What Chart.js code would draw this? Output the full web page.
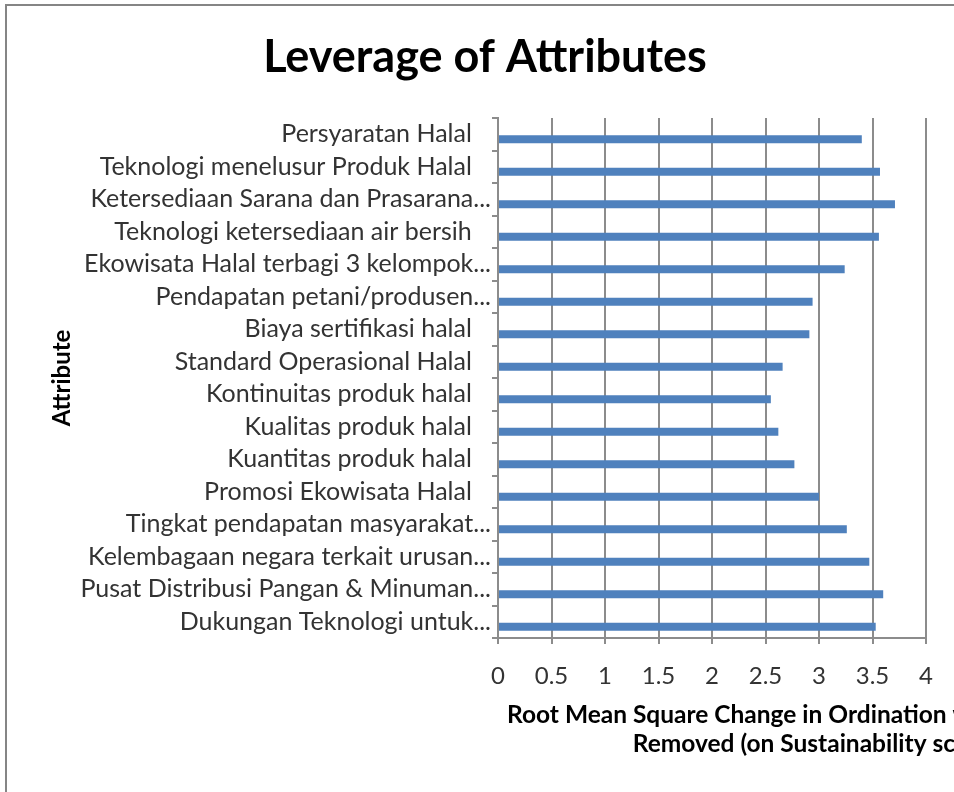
<!DOCTYPE html>
<html>
<head>
<meta charset="utf-8">
<title>Leverage of Attributes</title>
<script src="https://cdn.jsdelivr.net/npm/chart.js@4/dist/chart.umd.min.js"></script>
<style>
  html, body { margin: 0; padding: 0; background: #fff; overflow: hidden; }
  #frame { position: absolute; left: 5px; top: 4px; width: 1200px; height: 1000px; border: 2px solid #858585; box-sizing: border-box; }
  #wrap { position: absolute; left: 0; top: 0; width: 954px; height: 792px; }
</style>
</head>
<body>
<div id="frame"></div>
<div id="wrap"><canvas id="chart-leverage"></canvas></div>
<script>
/* leverage chart: horizontal bars, excel 2007 look, right side cropped */
const ATTRIBUTES = [
  'Persyaratan Halal',
  'Teknologi menelusur Produk Halal',
  'Ketersediaan Sarana dan Prasarana...',
  'Teknologi ketersediaan air bersih',
  'Ekowisata Halal terbagi 3 kelompok...',
  'Pendapatan petani/produsen...',
  'Biaya sertifikasi halal',
  'Standard Operasional Halal',
  'Kontinuitas produk halal',
  'Kualitas produk halal',
  'Kuantitas produk halal',
  'Promosi Ekowisata Halal',
  'Tingkat pendapatan masyarakat...',
  'Kelembagaan negara terkait urusan...',
  'Pusat Distribusi Pangan & Minuman...',
  'Dukungan Teknologi untuk...'
];
const RMS_CHANGE = [3.40, 3.57, 3.71, 3.56, 3.24, 2.94, 2.91, 2.66, 2.55, 2.62, 2.77, 3.00, 3.26, 3.47, 3.60, 3.53];
const X_TICKS = [0, 0.5, 1, 1.5, 2, 2.5, 3, 3.5, 4];
const X_TITLE = ['Root Mean Square Change in Ordination when Selected Attribute', 'Removed (on Sustainability scale 0 to 100)'];

const BLUE = '#4f81bd', GRID = '#8c8c8c', TEXT = '#333333';
const FONT = 'Lato, "Open Sans", sans-serif';

// excel placed the x axis title off-centre, so draw it by hand
const xTitlePlugin = {
  id: 'xTitle',
  afterDraw(chart) {
    const ctx = chart.ctx;
    ctx.save();
    ctx.font = 'bold 24.5px ' + FONT;
    ctx.fillStyle = '#000';
    ctx.textAlign = 'center';
    ctx.textBaseline = 'middle';
    ctx.fillText(X_TITLE[0], 862, 715);
    ctx.fillText(X_TITLE[1], 862, 744);
    ctx.restore();
  }
};

// bars sit a little below the row centre in the original (room for an empty 2nd series)
const barShift = {
  id: 'barShift',
  beforeDatasetsDraw(chart) { chart.ctx.save(); chart.ctx.translate(0, 5); },
  afterDatasetsDraw(chart) { chart.ctx.restore(); }
};

new Chart(document.getElementById('chart-leverage'), {
  type: 'bar',
  data: {
    labels: ATTRIBUTES,
    datasets: [{
      data: RMS_CHANGE,
      backgroundColor: BLUE,
      borderWidth: 0,
      categoryPercentage: 1,
      barPercentage: 0.24
    }]
  },
  options: {
    indexAxis: 'y',
    responsive: true,
    maintainAspectRatio: false,
    animation: false,
    devicePixelRatio: 1,
    layout: { padding: { left: 44, right: 28, top: 0, bottom: 0 } },
    plugins: {
      legend: { display: false },
      tooltip: { enabled: false },
      title: {
        display: true,
        text: 'Leverage of Attributes',
        color: '#000',
        font: { family: FONT, size: 45, weight: 'bold' },
        padding: { top: 30, bottom: 34 }
      }
    },
    scales: {
      x: {
        min: 0, max: 4,
        afterBuildTicks: s => { s.ticks = X_TICKS.map(v => ({ value: v })); },
        afterFit: s => { s.height = 154; },
        grid: { color: GRID, lineWidth: 2, tickLength: 6 },
        border: { color: GRID, width: 2 },
        ticks: { color: TEXT, font: { family: FONT, size: 24 }, padding: 18, maxRotation: 0, callback: v => String(v) }
      },
      y: {
        afterFit: s => { s.width = 454; },
        grid: { drawOnChartArea: false, color: GRID, lineWidth: 2, tickLength: 6 },
        border: { color: GRID, width: 2 },
        ticks: {
          color: TEXT, font: { family: FONT, size: 25 }, padding: 1, autoSkip: false,
          callback: function (v) {
            const t = this.getLabelForValue(v);
            return t.endsWith('...') ? t : t + '   ';
          }
        },
        title: {
          display: true, text: 'Attribute', color: '#000',
          font: { family: FONT, size: 24, weight: 'bold' },
          padding: { top: 3.6, bottom: 0 }
        }
      }
    }
  },
  plugins: [xTitlePlugin, barShift]
});
</script>
</body>
</html>
